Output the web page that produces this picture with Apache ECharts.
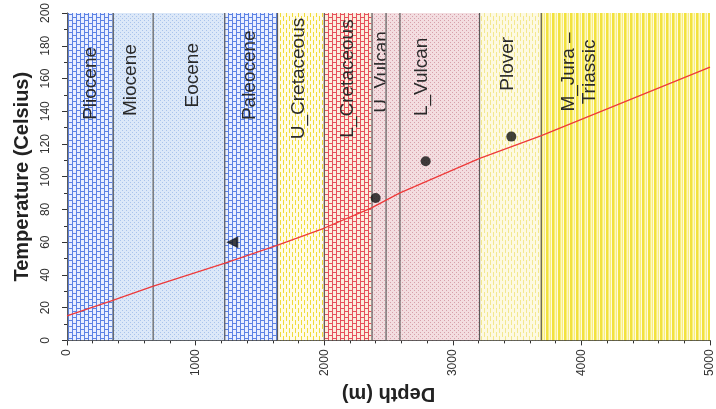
<!DOCTYPE html>
<html>
<head>
<meta charset="utf-8">
<script src="https://cdn.jsdelivr.net/npm/echarts@6/dist/echarts.min.js"></script>
<style>
  html, body { margin: 0; padding: 0; background: #fff; }
  #chart { width: 716px; height: 409px; }
</style>
</head>
<body>
<div id="chart"></div>
<script>
// Stratigraphic intervals (depth in metres)
const unitNames = ['Pliocene', 'Miocene', 'Eocene', 'Paleocene', 'U_Cretaceous', 'L_Cretaceous',
                   'U_Vulcan', '', 'L_Vulcan', 'Plover', 'M_Jura \u2013\nTriassic'];
const unitTop  = [0, 356, 666, 1223, 1633, 1997, 2368, 2477, 2585, 3204, 3684];
const unitBase = [356, 666, 1223, 1633, 1997, 2368, 2477, 2585, 3204, 3684, 5000];

// Modelled temperature profile: depth (m) and temperature (°C)
const profileDepth = [0, 356, 666, 1223, 1633, 1997, 2368, 2585, 3204, 3684, 5000];
const profileTemp  = [15, 24.5, 33, 47, 58, 68.5, 81, 90, 111, 125, 167];

// Measured temperatures
const triDepth = [1285];
const triTemp  = [60];
const dotDepth = [2400, 2789, 3455];
const dotTemp  = [87, 109.4, 124.5];

// Axis ticks
const depthTicks = [0, 1000, 2000, 3000, 4000, 5000];
const tempTicks  = [0, 20, 40, 60, 80, 100, 120, 140, 160, 180, 200];

// Label placement inside each interval (depth, temperature)
const labelDepth = [186, 495, 975, 1424, 1803, 2183, 2446, null, 2755, 3429, 3986];
const labelTemp  = [157, 159, 162, 162, 160, 160, 164, null, 161, 169, 164];
const unitFill   = ['blueBrick', 'blueDots', 'blueDots', 'blueBrick', 'yellowDash', 'redBrick',
                    'pinkDots', 'pinkDots', 'pinkDots', 'paleDash', 'yellowStripe'];

// ---- fill patterns ----
function tile(w, h, bg, draw) {
  const c = document.createElement('canvas');
  c.width = w; c.height = h;
  const g = c.getContext('2d');
  g.fillStyle = bg; g.fillRect(0, 0, w, h);
  if (draw) draw(g);
  return { image: c, repeat: 'repeat' };
}
function brick(line, cell) {
  return tile(8, 12, line, g => {
    g.fillStyle = cell;
    g.fillRect(1, 0, 3, 5); g.fillRect(1, 6, 3, 5);
    g.fillRect(5, 3, 3, 5); g.fillRect(5, 9, 3, 3); g.fillRect(5, 0, 3, 2);
  });
}
function dots(bg, dot) {
  return tile(4, 4, bg, g => {
    g.fillStyle = dot;
    g.fillRect(0, 0, 1, 1); g.fillRect(2, 2, 1, 1);
  });
}
function dashes(bg, dash, alt) {
  return tile(6, 8, bg, g => {
    g.fillStyle = dash;
    g.fillRect(1, 0, 1, 5);
    g.fillRect(4, 4, 1, 4); g.fillRect(4, 0, 1, 1);
    if (alt) { g.fillStyle = alt; g.fillRect(2, 0, 1, 8); }
  });
}
const patterns = {
  blueBrick: brick('#5c82e4', '#e9efff'),
  redBrick: brick('#e6505c', '#fbeede'),
  blueDots: dots('#dce8f8', '#a9c3ec'),
  pinkDots: dots('#f3dde0', '#d7a0aa'),
  yellowDash: dashes('#fffbe8', '#f0dc38'),
  paleDash: dashes('#fdf9e2', '#f3e88e'),
  yellowStripe: tile(6, 1, '#f8ee7e', g => {
    g.fillStyle = '#f2e23e'; g.fillRect(0, 0, 2, 1);
    g.fillStyle = '#fcf7c4'; g.fillRect(3, 0, 1, 1);
    g.fillStyle = '#fffbe0'; g.fillRect(5, 0, 1, 1);
  })
};

const FONT = 'Liberation Sans, Arial, sans-serif';
const bandData = unitTop.map((t, i) => [t, unitBase[i], i]);
const plain = v => String(v);

const chart = echarts.init(document.getElementById('chart'), null, { renderer: 'canvas' });

chart.setOption({
  animation: false,
  backgroundColor: '#ffffff',
  grid: { left: 67, right: 3, top: 8, bottom: 67 },
  xAxis: {
    type: 'value', min: 0, max: 5000, interval: 1000,
    name: 'Depth (m)', nameLocation: 'middle', nameGap: 40, nameRotate: 180,
    nameTextStyle: { fontFamily: FONT, fontSize: 20, fontWeight: 'bold', color: '#222' },
    axisLine: { show: true, lineStyle: { color: '#333', width: 1 } },
    axisTick: { show: true, length: 5, lineStyle: { color: '#333' } },
    minorTick: { show: true, splitNumber: 5, length: 3, lineStyle: { color: '#333' } },
    splitLine: { show: false },
    axisLabel: {
      rotate: 90, margin: 9, fontFamily: FONT, fontSize: 12, color: '#333',
      customValues: depthTicks, formatter: plain
    }
  },
  yAxis: {
    type: 'value', min: 0, max: 200, interval: 20, offset: 9,
    name: 'Temperature (Celsius)', nameLocation: 'middle', nameGap: 22,
    nameTextStyle: { fontFamily: FONT, fontSize: 20, fontWeight: 'bold', color: '#222' },
    axisLine: { show: true, lineStyle: { color: '#333', width: 1 } },
    axisTick: { show: true, length: 5, lineStyle: { color: '#333' } },
    minorTick: { show: true, splitNumber: 2, length: 3, lineStyle: { color: '#333' } },
    splitLine: { show: false },
    axisLabel: {
      rotate: 90, margin: 6, fontFamily: FONT, fontSize: 12, color: '#333',
      customValues: tempTicks, formatter: plain
    }
  },
  series: [
    {
      type: 'custom',
      name: 'units',
      clip: true,
      z: 1,
      data: bandData,
      encode: { x: [0, 1] },
      renderItem: function (params, api) {
        const i = api.value(2);
        const a = api.coord([api.value(0), 200]);
        const b = api.coord([api.value(1), 0]);
        const children = [
          {
            type: 'rect',
            shape: { x: a[0], y: a[1], width: b[0] - a[0], height: b[1] - a[1] },
            style: { fill: patterns[unitFill[i]] }
          },
          {
            type: 'line',
            shape: { x1: a[0] + 0.5, y1: a[1], x2: a[0] + 0.5, y2: b[1] },
            style: { stroke: '#5a5a5a', lineWidth: 1.2 }
          }
        ];
        if (unitNames[i]) {
          const p = api.coord([labelDepth[i], labelTemp[i]]);
          children.push({
            type: 'text',
            x: p[0], y: p[1],
            rotation: Math.PI / 2,
            style: {
              text: unitNames[i], fontFamily: FONT, fontSize: 19, fill: '#2a2a2a',
              align: 'center', verticalAlign: 'middle', lineHeight: 21
            }
          });
        }
        return { type: 'group', children: children };
      }
    },
    {
      type: 'line',
      name: 'profile',
      z: 3,
      data: profileDepth.map((d, i) => [d, profileTemp[i]]),
      symbol: 'none',
      lineStyle: { color: '#ee3a3a', width: 1.3 }
    },
    {
      type: 'scatter',
      name: 'measured-dst',
      z: 4,
      data: triDepth.map((d, i) => [d, triTemp[i]]),
      symbol: 'triangle', symbolRotate: 90, symbolSize: 12,
      itemStyle: { color: '#111' }
    },
    {
      type: 'scatter',
      name: 'measured-bht',
      z: 4,
      data: dotDepth.map((d, i) => [d, dotTemp[i]]),
      symbol: 'circle', symbolSize: 10,
      itemStyle: { color: '#111' }
    }
  ]
});
</script>
</body>
</html>
